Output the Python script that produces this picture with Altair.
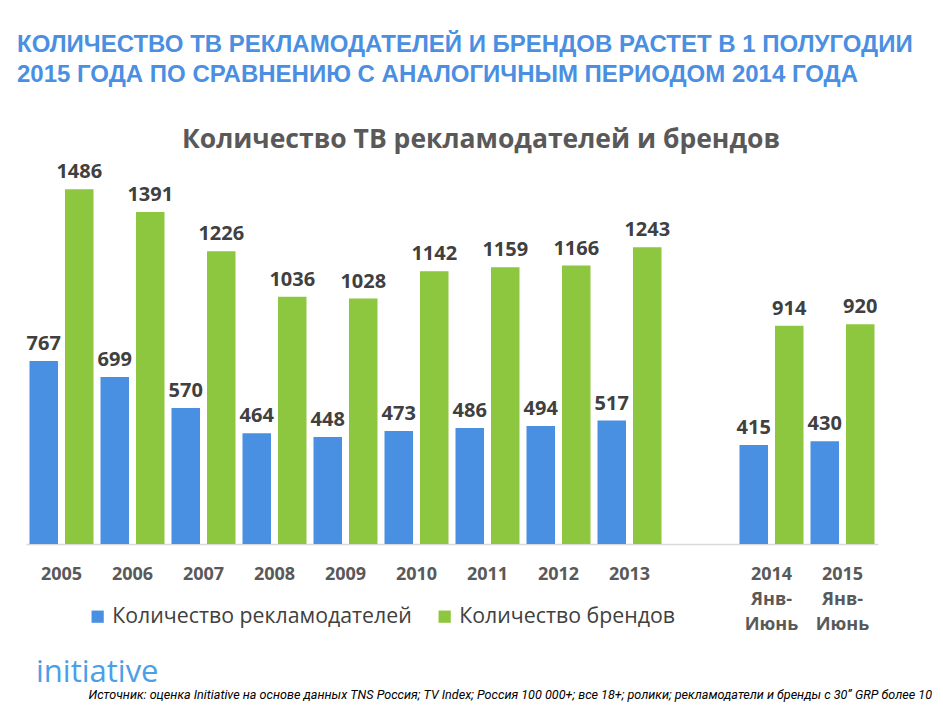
import altair as alt
import pandas as pd

categories = ["2005", "2006", "2007", "2008", "2009", "2010", "2011", "2012", "2013",
              " ", "2014|Янв-|Июнь", "2015|Янв-|Июнь"]
bar_categories = ["2005", "2006", "2007", "2008", "2009", "2010", "2011", "2012", "2013",
                  "2014|Янв-|Июнь", "2015|Янв-|Июнь"]
advertisers = [767, 699, 570, 464, 448, 473, 486, 494, 517, 415, 430]
brands = [1486, 1391, 1226, 1036, 1028, 1142, 1159, 1166, 1243, 914, 920]
series_names = ["Количество рекламодателей", "Количество брендов"]
series_colors = ["#4A90E2", "#8DC63F"]

header_lines = ["КОЛИЧЕСТВО ТВ РЕКЛАМОДАТЕЛЕЙ И БРЕНДОВ РАСТЕТ В 1 ПОЛУГОДИИ",
                "2015 ГОДА ПО СРАВНЕНИЮ  С АНАЛОГИЧНЫМ ПЕРИОДОМ 2014 ГОДА"]
chart_title = "Количество ТВ рекламодателей и брендов"
logo_text = "initiative"
footnote = ("Источник: оценка Initiative на основе данных TNS Россия; TV Index; Россия 100 000+; "
            "все 18+; ролики; рекламодатели и бренды с 30” GRP более 10")

rows = []
for c, a, b in zip(bar_categories, advertisers, brands):
    rows.append({"cat": c, "series": series_names[0], "value": a})
    rows.append({"cat": c, "series": series_names[1], "value": b})
df = pd.DataFrame(rows)

W, H = 852, 382
FONT = "Open Sans"

x_enc = alt.X("cat:N", scale=alt.Scale(domain=categories, paddingInner=0, paddingOuter=0),
              axis=alt.Axis(title=None, labelExpr="split(datum.label, '|')", labelFont=FONT,
                            labelFontSize=18, labelFontWeight="bold", labelColor="#595959",
                            labelLineHeight=25, labelPadding=21, ticks=False,
                            domainColor="#D9D9D9", domainWidth=1.5, labelAngle=0,
                            labelBaseline="top"))
xo_enc = alt.XOffset("series:N", sort=series_names,
                     scale=alt.Scale(domain=series_names, paddingInner=0.197, paddingOuter=0.0985))
y_enc = alt.Y("value:Q", scale=alt.Scale(domain=[0, 1600], nice=False), axis=None)

bars = alt.Chart(df).mark_bar().encode(
    x=x_enc, xOffset=xo_enc, y=y_enc,
    color=alt.Color("series:N", sort=series_names,
                    scale=alt.Scale(domain=series_names, range=series_colors),
                    legend=alt.Legend(title=None, orient="none", direction="horizontal",
                                      legendX=61, legendY=444, symbolType="square",
                                      symbolSize=150, symbolStrokeWidth=0,
                                      labelFont=FONT, labelFontSize=21.3, labelColor="#404040",
                                      labelOffset=4, columnPadding=22, labelLimit=400))
)

labels = alt.Chart(df).mark_text(baseline="bottom", dy=-7, font=FONT, fontSize=20,
                                 fontWeight="bold", color="#404040").encode(
    x=x_enc, xOffset=xo_enc, y=y_enc, text=alt.Text("value:Q")
)

one = pd.DataFrame({"k": [0]})

HFONT = "Liberation Sans, Arial, Roboto"
header1 = alt.Chart(one).mark_text(align="left", baseline="middle", font=HFONT,
                                   fontSize=24, fontWeight="bold", color="#4A8FE2").encode(
    x=alt.value(-9), y=alt.value(-117), text=alt.value(header_lines[0]))
header2 = alt.Chart(one).mark_text(align="left", baseline="middle", font=HFONT,
                                   fontSize=24, fontWeight="bold", color="#4A8FE2").encode(
    x=alt.value(-9), y=alt.value(-87), text=alt.value(header_lines[1]))
title = alt.Chart(one).mark_text(align="center", baseline="middle", font=FONT, fontSize=26.5,
                                 fontWeight="bold", color="#595959").encode(
    x=alt.value(455), y=alt.value(-22), text=alt.value(chart_title))
logo = alt.Chart(one).mark_text(align="left", baseline="alphabetic", font=FONT, fontSize=31,
                                color="#4AA0E6").encode(
    x=alt.value(10), y=alt.value(520), text=alt.value(logo_text))
foot = alt.Chart(one).mark_text(align="right", baseline="alphabetic", font="Roboto, Liberation Sans",
                                fontSize=12.6, fontStyle="italic", color="#000000").encode(
    x=alt.value(906), y=alt.value(537), text=alt.value(footnote))

chart = alt.layer(bars, labels, header1, header2, title, logo, foot).properties(
    width=W, height=H,
    autosize=alt.AutoSizeParams(type="none"),
    padding={"left": 18, "top": 154, "right": 57, "bottom": 158},
    background="white",
).configure_view(stroke=None)

chart.save("out.html", embed_options={"renderer": "svg", "actions": False})
